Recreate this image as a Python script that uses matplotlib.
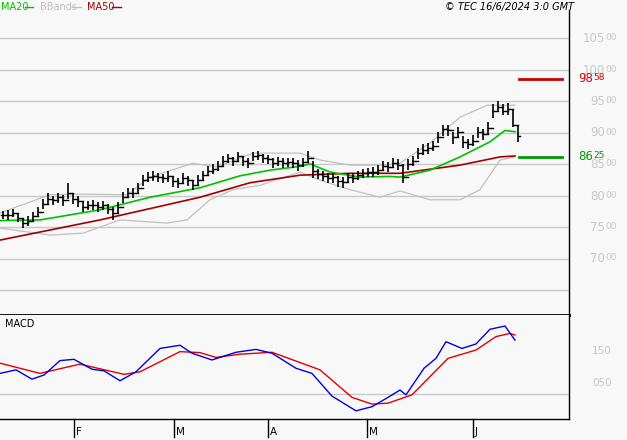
import matplotlib
matplotlib.use('Agg')
import matplotlib.pyplot as plt

# daily bars (trading day index 0..103)
closes = [77.0, 77.0, 77.3, 76.5, 75.7, 76.0, 76.8, 77.5, 78.8, 79.5,
          79.3, 79.8, 79.3, 80.5, 79.6, 79.2, 78.3, 78.5, 78.6, 78.2,
          78.5, 78.0, 77.3, 78.2, 79.8, 80.5, 80.5, 81.3, 82.5, 83.0,
          83.2, 83.0, 82.8, 83.1, 82.3, 82.0, 82.8, 82.5, 81.8, 82.6,
          83.3, 84.0, 84.3, 84.8, 85.5, 86.0, 85.5, 86.3, 85.6, 85.2,
          86.3, 86.5, 86.0, 85.8, 85.3, 85.5, 85.2, 85.4, 85.3, 84.9,
          85.4, 86.0, 84.0, 83.5, 83.2, 82.8, 83.0, 82.4, 82.2, 83.0,
          82.9, 83.3, 83.6, 83.8, 83.8, 84.2, 84.8, 84.6, 85.2, 84.9,
          83.0, 85.0, 85.5, 86.8, 87.3, 87.6, 88.0, 89.3, 90.6, 90.4,
          89.3, 90.2, 88.5, 88.2, 88.8, 90.1, 89.8, 90.8, 93.5, 94.2,
          93.5, 93.8, 91.2, 89.5]
highs = [77.6, 77.8, 77.9, 77.2, 76.4, 76.9, 77.5, 78.3, 79.6, 80.4,
         80.0, 80.5, 80.2, 82.0, 80.4, 80.0, 79.1, 79.2, 79.4, 79.0,
         79.2, 78.8, 78.3, 79.0, 80.6, 81.3, 81.2, 82.0, 83.3, 83.8,
         84.0, 83.7, 83.5, 83.9, 83.0, 82.9, 83.6, 83.2, 82.6, 83.4,
         84.0, 84.8, 85.0, 85.6, 86.3, 86.7, 86.2, 87.0, 86.4, 86.0,
         87.0, 87.2, 86.7, 86.5, 86.0, 86.2, 86.0, 86.1, 86.0, 85.7,
         86.1, 87.2, 85.6, 84.3, 84.0, 83.6, 83.7, 83.2, 83.0, 83.7,
         83.6, 84.0, 84.3, 84.5, 84.6, 84.9, 85.6, 85.4, 86.0, 85.8,
         85.0, 85.8, 86.3, 87.6, 88.3, 88.4, 88.8, 90.2, 91.3, 91.2,
         90.2, 91.0, 89.6, 89.0, 89.7, 90.9, 90.6, 91.7, 94.6, 95.0,
         94.6, 94.8, 93.8, 91.3]
lows = [76.3, 76.2, 76.6, 75.8, 74.9, 75.2, 76.0, 76.7, 77.9, 78.6,
        78.5, 78.9, 78.4, 79.6, 78.8, 78.3, 77.4, 77.7, 77.8, 77.4,
        77.7, 77.1, 76.2, 77.3, 78.9, 79.7, 79.7, 80.5, 81.6, 82.2,
        82.4, 82.2, 82.0, 82.2, 81.4, 81.2, 81.9, 81.6, 80.9, 81.7,
        82.5, 83.2, 83.5, 84.0, 84.7, 85.2, 84.7, 85.5, 84.8, 84.4,
        85.5, 85.7, 85.2, 85.0, 84.5, 84.7, 84.4, 84.6, 84.5, 84.0,
        84.6, 85.2, 82.8, 82.7, 82.4, 82.0, 82.1, 81.5, 81.2, 82.1,
        82.0, 82.5, 82.8, 83.0, 83.0, 83.4, 84.0, 83.8, 84.4, 84.1,
        82.0, 84.1, 84.7, 85.9, 86.5, 86.7, 87.2, 88.4, 89.6, 89.5,
        88.3, 89.2, 87.6, 87.4, 87.9, 89.2, 88.9, 89.9, 92.4, 93.3,
        92.8, 92.9, 91.0, 88.5]

ma20_days = [-0.6, 7.4, 19.4, 29.4, 39.4, 47.4, 53.4, 59.4, 61.4, 65.4, 71.4, 77.4, 79.4, 85.4, 91.4, 97.4, 100.4, 102.4]
ma20_vals = [76.1, 76.2, 77.8, 79.8, 81.3, 83.2, 84.1, 84.7, 85.1, 83.8, 83.0, 83.1, 83.0, 84.1, 86.2, 88.6, 90.4, 90.2]
ma50_days = [-0.6, 19.4, 39.4, 49.4, 59.4, 69.4, 79.4, 91.4, 99.4, 102.4]
ma50_vals = [73.0, 76.2, 79.8, 82.1, 83.3, 83.6, 83.6, 84.9, 86.2, 86.35]
bb_up_days = [-0.6, 9.4, 14.8, 24.8, 29.4, 38.0, 42.8, 50.0, 59.4, 63.4, 69.4, 75.4, 79.4, 85.4, 91.4, 96.8, 102.4]
bb_up_vals = [77.3, 80.2, 80.3, 80.2, 83.0, 85.2, 84.6, 86.8, 86.8, 85.7, 84.9, 84.9, 85.2, 88.4, 92.5, 94.4, 94.4]
bb_lo_days = [-0.6, 9.4, 16.0, 23.4, 32.8, 36.8, 41.4, 46.0, 51.4, 59.4, 63.4, 69.4, 75.4, 79.4, 85.4, 91.4, 95.4, 99.4, 102.4]
bb_lo_vals = [74.9, 73.8, 74.1, 76.2, 75.7, 76.2, 79.4, 81.0, 81.7, 83.8, 82.5, 81.0, 79.8, 80.8, 79.4, 79.4, 81.0, 85.7, 86.2]

macd_days = [-0.6, 2.6, 5.8, 8.2, 11.4, 14.2, 17.8, 20.2, 23.4, 26.6, 31.4, 35.4, 37.8, 41.8, 46.6, 50.6, 53.8,
             58.6, 61.8, 65.8, 70.6, 73.8, 77.0, 79.4, 80.6, 84.2, 86.6, 88.6, 91.8, 94.6, 97.4, 100.4, 102.4]
macd_vals = [0.80, 0.91, 0.62, 0.75, 1.20, 1.24, 0.93, 0.88, 0.57, 0.85, 1.58, 1.68, 1.43, 1.22, 1.46, 1.55, 1.43,
             0.96, 0.80, 0.09, -0.37, -0.24, 0.05, 0.28, 0.13, 0.96, 1.27, 1.79, 1.58, 1.72, 2.18, 2.28, 1.84]
signal_days = [-0.6, 7.4, 15.4, 24.2, 27.4, 35.4, 39.4, 42.6, 47.4, 53.8, 63.4, 69.8, 73.8, 77.0, 81.8, 89.0, 94.6, 98.6, 101.4, 102.4]
signal_vals = [1.12, 0.80, 1.09, 0.77, 0.85, 1.48, 1.45, 1.30, 1.40, 1.46, 0.91, 0.05, -0.16, -0.13, 0.13, 1.27, 1.53, 1.95, 2.05, 2.00]

resistance = 98.58
support = 86.25
price_ticks = [105, 100, 95, 90, 85, 80, 75, 70]
month_days = [14.2, 34.2, 53.0, 72.8, 94.0]
month_labels = ['F', 'M', 'A', 'M', 'J']

BG = '#f8f8f8'
GRID = '#c8c8c8'
W, H = 627, 440
fig = plt.figure(figsize=(6.27, 4.40), dpi=100, facecolor=BG)
XL = (-0.6, 113.2)
ax = fig.add_axes([0, 125 / H, 569 / W, 305 / H], facecolor=BG)
ax2 = fig.add_axes([0, 21 / H, 569 / W, 104 / H], facecolor=BG)

for a in (ax, ax2):
    a.set_xlim(*XL)
    a.set_xticks([])
    a.set_yticks([])
    for s in ('left', 'top'):
        a.spines[s].set_visible(False)
    a.spines['right'].set_linewidth(1)
ax.spines['bottom'].set_linewidth(2)
ax2.spines['bottom'].set_linewidth(1)

ax.set_ylim(61.11, 109.52)
for v in [65] + price_ticks:
    ax.axhline(v, color=GRID, lw=1, zorder=0)

ax.plot(bb_up_days, bb_up_vals, color='#c0c0c0', lw=0.9)
ax.plot(bb_lo_days, bb_lo_vals, color='#c0c0c0', lw=0.9)
ax.plot(ma50_days, ma50_vals, color='#a00000', lw=1.2)
ax.plot(ma20_days, ma20_vals, color='#00c000', lw=1.2)

opens = [closes[0]] + closes[:-1]
for i in range(len(closes)):
    ax.plot([i, i], [lows[i], highs[i]], color='black', lw=1.2, solid_capstyle='butt')
    ax.plot([i - 0.35, i], [opens[i], opens[i]], color='black', lw=1)
    ax.plot([i, i + 0.35], [closes[i], closes[i]], color='black', lw=1)

ax.plot([103.2, 111.8], [resistance, resistance], color='#cc0000', lw=2)
ax.plot([103.2, 111.8], [support, support], color='#009900', lw=2)

def px(v):
    return 440 - (70 + (100 - v) * 6.3)

for v in price_ticks:
    fig.text(605 / W, px(v) / H, str(v), color=GRID, fontsize=8.5, ha='right', va='center')
    fig.text(605 / W, (px(v) + 1) / H, '00', color=GRID, fontsize=6.5, ha='left', va='center')
for v, c in ((resistance, '#dd0000'), (support, '#009900')):
    a, b = f'{v:.2f}'.split('.')
    fig.text(593 / W, px(v) / H, a, color=c, fontsize=8.5, ha='right', va='center')
    fig.text(593 / W, (px(v) + 1) / H, b, color=c, fontsize=6.5, ha='left', va='center')

# MACD panel
ax2.set_ylim(-0.625, 2.625)
ax2.axhline(0.16, color=GRID, lw=1, zorder=0)
ax2.plot(signal_days, signal_vals, color='#e00000', lw=1)
ax2.plot(macd_days, macd_vals, color='#0000e0', lw=1)
ax2.text(0.5, 2.25, 'MACD', fontsize=7, color='black')
for v, t in ((1.5, '150'), (0.5, '050')):
    fig.text(612 / W, (440 - (383 - (v - 0.5) * 32)) / H, t, color=GRID, fontsize=7.5, ha='right', va='center')

for d, lab in zip(month_days, month_labels):
    xf = (d * 5 + 3) / W
    fig.add_artist(plt.Line2D([xf, xf], [3 / H, 21 / H], color='black', lw=1))
    fig.text(xf + 2 / W, 8 / H, lab, fontsize=7.5, ha='left', va='center')

# legend
fig.text(1 / W, 433 / H, 'MA20', color='#00c000', fontsize=7, va='center')
fig.add_artist(plt.Line2D([25 / W, 33 / W], [433 / H] * 2, color='#00c000', lw=1))
fig.text(40 / W, 433 / H, 'BBands', color='#c0c0c0', fontsize=7, va='center')
fig.add_artist(plt.Line2D([72 / W, 81 / W], [433 / H] * 2, color='#c0c0c0', lw=1))
fig.text(87 / W, 433 / H, 'MA50', color='#a00000', fontsize=7, va='center')
fig.add_artist(plt.Line2D([112 / W, 121 / W], [433 / H] * 2, color='#a00000', lw=1))
fig.text(574 / W, 433 / H, '© TEC 16/6/2024 3:0 GMT', fontsize=7, style='italic', ha='right', va='center')

fig.savefig('out.png', dpi=100, facecolor=BG)
